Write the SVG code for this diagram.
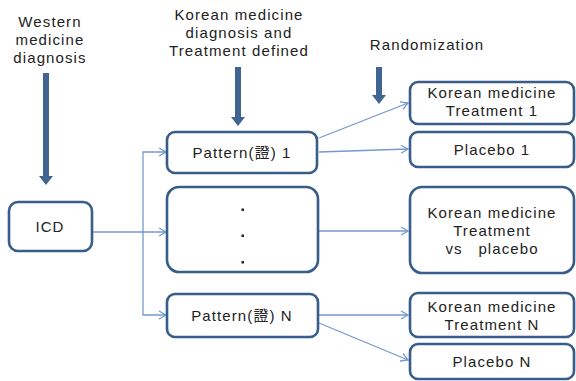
<svg xmlns="http://www.w3.org/2000/svg" width="576" height="381" viewBox="0 0 576 381">
<style>
text{font-family:"Liberation Sans","Noto Sans CJK KR",sans-serif;font-size:15px;fill:#222;text-anchor:middle;letter-spacing:1.1px}
.box{fill:#fff;stroke:#385d8a;stroke-width:2.6}
.con{fill:none;stroke:#7399cf;stroke-width:1.3}
.big{fill:#416592}
.dot{fill:#222}
</style>
<defs>
<marker id="oa" markerWidth="10" markerHeight="10" refX="8" refY="5" orient="auto" markerUnits="userSpaceOnUse">
<path d="M1,1 L8,5 L1,9" fill="none" stroke="#7399cf" stroke-width="1.3"/>
</marker>
</defs>
<g id="labels">
<text x="50" y="27"><tspan x="50">Western</tspan><tspan x="50" dy="18">medicine</tspan><tspan x="50" dy="18">diagnosis</tspan></text>
<text x="239" y="20"><tspan x="239">Korean medicine</tspan><tspan x="239" dy="18">diagnosis and</tspan><tspan x="239" dy="18">Treatment defined</tspan></text>
<text x="427" y="50">Randomization</text>
</g>
<g id="big-arrows">
<path class="big" d="M43,73 H49 V176 H53 L46,185 L39,176 H43 Z"/>
<path class="big" d="M235,67 H241 V117 H245 L238,126 L231,117 H235 Z"/>
<path class="big" d="M376,67 H382 V95 H386 L379,104 L372,95 H376 Z"/>
</g>
<g id="connectors">
<path class="con" d="M93,232 H166" marker-end="url(#oa)"/>
<path class="con" d="M143,232 V152 H166" marker-end="url(#oa)"/>
<path class="con" d="M143,232 V315 H166" marker-end="url(#oa)"/>
<path class="con" d="M319,138 L408,103" marker-end="url(#oa)"/>
<path class="con" d="M319,152 L408,149" marker-end="url(#oa)"/>
<path class="con" d="M319,231 H408" marker-end="url(#oa)"/>
<path class="con" d="M319,315 H408" marker-end="url(#oa)"/>
<path class="con" d="M319,323 L408,360" marker-end="url(#oa)"/>
</g>
<g id="icd"><rect class="box" x="9" y="202" width="83" height="49" rx="9"/><text x="50" y="232">ICD</text></g>
<g id="pattern1"><rect class="box" x="167" y="132" width="150" height="41" rx="8"/><text x="242" y="158">Pattern(證) 1</text></g>
<g id="dots"><rect class="box" x="167" y="187" width="151" height="85" rx="12"/><rect class="dot" x="241.5" y="208.5" width="2.5" height="2.5"/><rect class="dot" x="241.5" y="234.5" width="2.5" height="2.5"/><rect class="dot" x="241.5" y="261" width="2.5" height="2.5"/></g>
<g id="patternN"><rect class="box" x="167" y="294" width="151" height="43" rx="8"/><text x="242" y="321">Pattern(證) N</text></g>
<g id="kmt1"><rect class="box" x="410" y="82" width="164" height="42" rx="8"/><text x="492" y="98"><tspan x="492">Korean medicine</tspan><tspan x="492" dy="18">Treatment 1</tspan></text></g>
<g id="placebo1"><rect class="box" x="410" y="132" width="164" height="35" rx="8"/><text x="492" y="155">Placebo 1</text></g>
<g id="kmvs"><rect class="box" x="410" y="187" width="164" height="86" rx="12"/><text x="492" y="218" xml:space="preserve"><tspan x="492">Korean medicine</tspan><tspan x="492" dy="18">Treatment</tspan><tspan x="492" dy="18">vs   placebo</tspan></text></g>
<g id="kmtN"><rect class="box" x="410" y="293" width="164" height="44" rx="8"/><text x="492" y="312"><tspan x="492">Korean medicine</tspan><tspan x="492" dy="18">Treatment N</tspan></text></g>
<g id="placeboN"><rect class="box" x="410" y="344" width="164" height="35" rx="8"/><text x="492" y="367">Placebo N</text></g>
</svg>
